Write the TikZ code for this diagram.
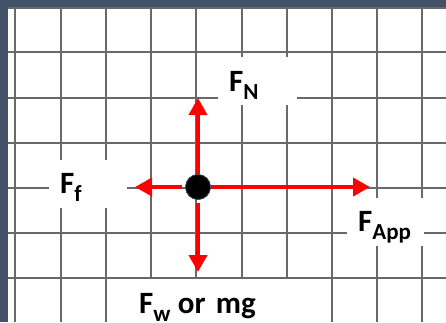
\documentclass[tikz,border=0pt]{standalone}
\usepackage{fontspec}
\setmainfont{Carlito}
\usetikzlibrary{arrows.meta}

\definecolor{framegray}{RGB}{66,82,104}
\definecolor{gridgray}{RGB}{105,105,105}
\definecolor{forcered}{RGB}{255,0,0}
\newcommand{\fsub}[1]{F\raisebox{-0.26em}{\fontsize{23}{23}\selectfont #1}}

\tikzset{
  gridline/.style={gridgray, line width=1.8pt},
  force/.style={forcered, line width=4pt, -{Triangle[length=17pt,width=18pt]}},
  forcelabel/.style={fill=white, anchor=west, inner xsep=11pt, inner ysep=0pt,
    align=left, minimum height=48pt, text height=23pt, text depth=3pt,
    font=\bfseries\fontsize{31}{32}\selectfont},
  body/.style={circle, fill=black, draw=framegray, line width=0.6pt,
    minimum size=25pt, inner sep=0pt}
}

\begin{document}
\begin{tikzpicture}[x=1pt, y=-1pt]
    \useasboundingbox (0,0) rectangle (446,322);
    \clip (0,0) rectangle (446,322);
    \fill[framegray] (0,0) rectangle (446,322);
    \fill[white] (8,7) rectangle (446,322);
    \foreach \x in {15,61,106,151,196,242,287,332,377,422}
      \draw[gridline] (\x,7) -- (\x,322);
    \foreach \y in {8,52,98,143,188,233,278}
      \draw[gridline] (8,\y) -- (446,\y);

    \node[forcelabel, text width=57pt] (fn) at (218,81) {\fsub{N}};
    \node[forcelabel, text width=56pt] (ff) at (49,183.5) {\fsub{f}};
    \node[forcelabel, text width=55pt] (fapp) at (347,221.5) {\fsub{App}};
    \node[forcelabel, text width=146pt] (fw) at (128,303) {\fsub{w}\hspace{-3pt} or mg};

    \node[body] (dot) at (198,187) {};
    \coordinate (upTip) at (198,98);
    \coordinate (rightTip) at (370,187);
    \coordinate (leftTip) at (135,187);
    \coordinate (downTip) at (198,272);
    \draw[force] (dot) -- (upTip);
    \draw[force] (dot) -- (rightTip);
    \draw[force, shorten <=3pt] (dot) -- (leftTip);
    \draw[force, shorten <=3.5pt] (dot) -- (downTip);
    \node[body] at (dot) {};
\end{tikzpicture}
\end{document}
